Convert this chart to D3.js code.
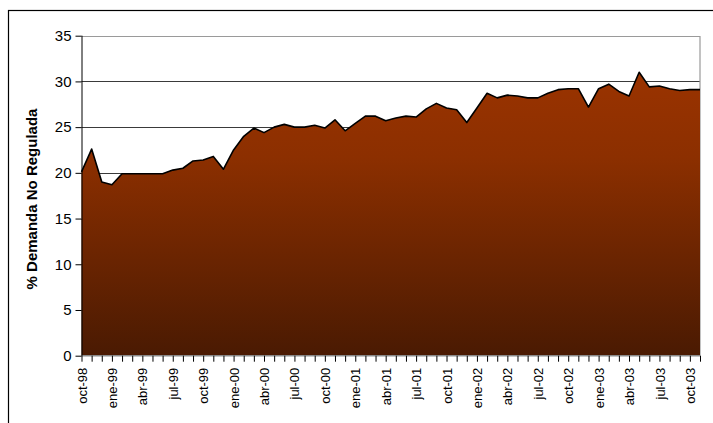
<!DOCTYPE html>
<html><head><meta charset="utf-8">
<script src="https://cdn.jsdelivr.net/npm/d3@7"></script>
<style>body{margin:0;background:#fff}svg{display:block}</style>
</head><body>
<svg id="c" width="713" height="423"></svg>
<script>
const months = [
  "oct-98","nov-98","dic-98",
  "ene-99","feb-99","mar-99","abr-99","may-99","jun-99","jul-99","ago-99","sep-99","oct-99","nov-99","dic-99",
  "ene-00","feb-00","mar-00","abr-00","may-00","jun-00","jul-00","ago-00","sep-00","oct-00","nov-00","dic-00",
  "ene-01","feb-01","mar-01","abr-01","may-01","jun-01","jul-01","ago-01","sep-01","oct-01","nov-01","dic-01",
  "ene-02","feb-02","mar-02","abr-02","may-02","jun-02","jul-02","ago-02","sep-02","oct-02","nov-02","dic-02",
  "ene-03","feb-03","mar-03","abr-03","may-03","jun-03","jul-03","ago-03","sep-03","oct-03","nov-03"
];
const demandaNoRegulada = [
  20.1,22.6,19.0,
  18.7,19.9,19.9,19.9,19.9,19.9,20.3,20.5,21.3,21.4,21.8,20.4,
  22.5,24.0,24.9,24.4,25.0,25.3,25.0,25.0,25.2,24.9,25.8,24.6,
  25.4,26.2,26.2,25.7,26.0,26.2,26.1,27.0,27.6,27.1,26.9,25.5,
  27.1,28.7,28.2,28.5,28.4,28.2,28.2,28.7,29.1,29.2,29.2,27.2,
  29.2,29.7,28.9,28.4,31.0,29.4,29.5,29.2,29.0,29.1,29.1
];
const yTicks = [0,5,10,15,20,25,30,35];
const xTickLabels = months.filter((m,i)=> i % 3 === 0);
const yTitle = "% Demanda No Regulada";

const svg = d3.select("#c");
const L = 81.5, R = 700, T = 35.7, B = 355.7;
const x = d3.scalePoint().domain(months).range([L, R]);
const y = d3.scaleLinear().domain([0,35]).range([B, T]);

// outer frame
svg.append("rect").attr("x",8.5).attr("y",10.5).attr("width",720).attr("height",430)
  .attr("fill","none").attr("stroke","#000").attr("stroke-width",1.2);

const defs = svg.append("defs");
const g = defs.append("linearGradient").attr("id","fillg").attr("x1",0).attr("y1",0).attr("x2",0).attr("y2",1);
g.append("stop").attr("offset","0%").attr("stop-color","#9a3300");
g.append("stop").attr("offset","30%").attr("stop-color","#8c2f00");
g.append("stop").attr("offset","100%").attr("stop-color","#4a1a02");

// gridlines
svg.append("g").selectAll("line").data(yTicks.filter(d=>d>0 && d<35)).join("line")
  .attr("x1",L).attr("x2",R).attr("y1",d=>Math.round(y(d))+0.5).attr("y2",d=>Math.round(y(d))+0.5)
  .attr("stroke","#3a3a3a").attr("stroke-width",1);

// plot border (top & right gray)
svg.append("path").attr("d",`M${L},${Math.round(T)+0.5}H${R}V${B}`)
  .attr("fill","none").attr("stroke","#9a9a9a").attr("stroke-width",1.2);

// area
const area = d3.area().x((d,i)=>x(months[i])).y0(y(0)).y1(d=>y(d));
svg.append("path").datum(demandaNoRegulada).attr("d",area).attr("fill","url(#fillg)");
const line = d3.line().x((d,i)=>x(months[i])).y(d=>y(d));
svg.append("path").datum(demandaNoRegulada).attr("d",line)
  .attr("fill","none").attr("stroke","#000").attr("stroke-width",1.6).attr("stroke-linejoin","round");

// bottom axis line
svg.append("line").attr("x1",L).attr("x2",R).attr("y1",B).attr("y2",B)
  .attr("stroke","#8a8a8a").attr("stroke-width",1.5);

// y axis
const yAxis = d3.axisLeft(y).tickValues(yTicks).tickSize(6).tickPadding(4);
const ya = svg.append("g").attr("transform",`translate(${L},0)`).call(yAxis);
ya.select(".domain").attr("stroke","#000").attr("d",`M0.5,${T}V${B}`);
ya.selectAll(".tick line").attr("stroke","#000");
ya.selectAll("text").attr("font-family","Liberation Sans, Arial, sans-serif").attr("font-size",15).attr("fill","#000");

// x axis
const xAxis = d3.axisBottom(x).tickValues(months).tickSize(6).tickFormat(d=> xTickLabels.includes(d) ? d : "");
const xa = svg.append("g").attr("transform",`translate(0,${B})`).call(xAxis);
xa.select(".domain").remove();
xa.selectAll(".tick line").attr("stroke","#000");
xa.selectAll("text").attr("font-family","Liberation Sans, Arial, sans-serif").attr("font-size",13).attr("fill","#000")
  .attr("transform","rotate(-90)").attr("text-anchor","end").attr("x",-12).attr("y",0).attr("dy","0.35em");

// y title
svg.append("text").attr("transform","translate(37,199) rotate(-90)").attr("text-anchor","middle")
  .attr("font-family","Liberation Sans, Arial, sans-serif").attr("font-weight","bold").attr("font-size",15)
  .text(yTitle);
</script>
</body></html>
